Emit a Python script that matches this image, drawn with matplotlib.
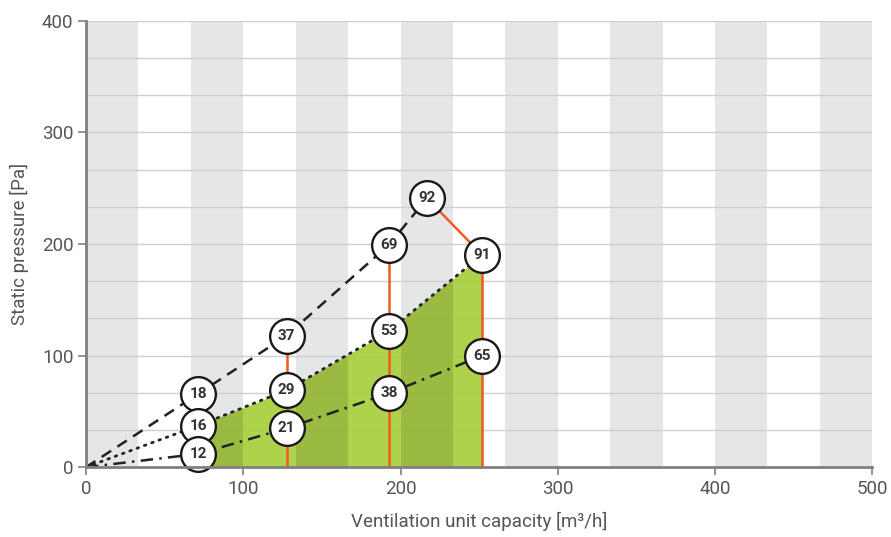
import numpy as np
import matplotlib
matplotlib.use("Agg")
import matplotlib.pyplot as plt

plt.rcParams['font.family'] = ['Roboto', 'DejaVu Sans']

# curve points (origin + four operating points)
dashed_x = [0, 71.4, 127.6, 192.6, 216.9]
dashed_y = [0, 65.7, 117.9, 199.1, 240.9]
dashed_lbl = ['18', '37', '69', '92']

dotted_x = [0, 71.4, 127.6, 192.6, 251.9]
dotted_y = [0, 37.3, 69.0, 122.2, 190.1]
dotted_lbl = ['16', '29', '53', '91']

dashdot_x = [0, 71.4, 127.6, 192.6, 251.9]
dashdot_y = [0, 11.9, 34.9, 66.2, 99.9]
dashdot_lbl = ['12', '21', '38', '65']

# orange limit lines
limit_x = [127.6, 192.6, 251.9]
limit_top = [117.9, 199.1, 190.1]

fig, ax = plt.subplots(figsize=(8.91, 5.37), dpi=100)
fig.subplots_adjust(left=0.0965, right=0.979, top=0.9615, bottom=0.13)

ax.set_xlim(0, 500)
ax.set_ylim(0, 400)

# background stripes
step = 100 / 3
for i in range(0, 15, 2):
    ax.axvspan(i * step, (i + 1) * step, color='#e5e6e8', lw=0, zorder=0)

# gridlines
for i in range(1, 13):
    ax.axhline(i * step, color='#cfcfcf', lw=1, zorder=0.5)

# green working area under dotted curve
fx = dotted_x[1:]
fy = dotted_y[1:]
poly = ax.fill_between(fx, 0, fy, color='#a6ce39', alpha=0.9, lw=0, zorder=1)
clip = poly.get_paths()[0]
for i in range(0, 15, 2):
    r = ax.axvspan(i * step, (i + 1) * step, color='black', alpha=0.1, lw=0, zorder=1.2)
    r.set_clip_path(clip, ax.transData)

orange = '#f05a24'
for x, top in zip(limit_x, limit_top):
    ax.plot([x, x], [0, top], color=orange, lw=1.8, zorder=2)
ax.plot([dashed_x[-1], dotted_x[-1]], [dashed_y[-1], dotted_y[-1]], color=orange, lw=1.8, zorder=2)

ink = '#222222'
ax.plot(dashed_x, dashed_y, color=ink, lw=1.8, dashes=(4.5, 3), zorder=3)
ax.plot(dotted_x, dotted_y, color=ink, lw=2, dashes=(0.6, 2.2), dash_capstyle='round', zorder=3)
ax.plot(dashdot_x, dashdot_y, color=ink, lw=1.8, dashes=(5, 2.5, 1, 2.5), zorder=3)

for xs, ys, lbls in [(dashed_x, dashed_y, dashed_lbl),
                     (dotted_x, dotted_y, dotted_lbl),
                     (dashdot_x, dashdot_y, dashdot_lbl)]:
    ax.plot(xs[1:], ys[1:], 'o', ms=25, mfc='white', mec='#1a1a1a', mew=1.7,
            zorder=4, clip_on=False)
    for x, y, t in zip(xs[1:], ys[1:], lbls):
        ax.text(x, y, t, ha='center', va='center', fontsize=11, fontweight='bold',
                color='#333333', zorder=5)

for s in ['top', 'right']:
    ax.spines[s].set_visible(False)
for s in ['left', 'bottom']:
    ax.spines[s].set_color('#808080')
    ax.spines[s].set_linewidth(2)
    ax.spines[s].set_zorder(6)

ax.set_xticks([0, 100, 200, 300, 400, 500])
ax.set_yticks([0, 100, 200, 300, 400])
ax.tick_params(direction='out', length=6, width=1.2, color='#808080',
               labelcolor='#555555', labelsize=13.5, pad=3)
ax.set_xlabel('Ventilation unit capacity [m³/h]', fontsize=13.5,
              color='#555555', labelpad=10)
ax.set_ylabel('Static pressure [Pa]', fontsize=13.5,
              color='#555555', labelpad=9)

fig.savefig('out.png', dpi=100)
